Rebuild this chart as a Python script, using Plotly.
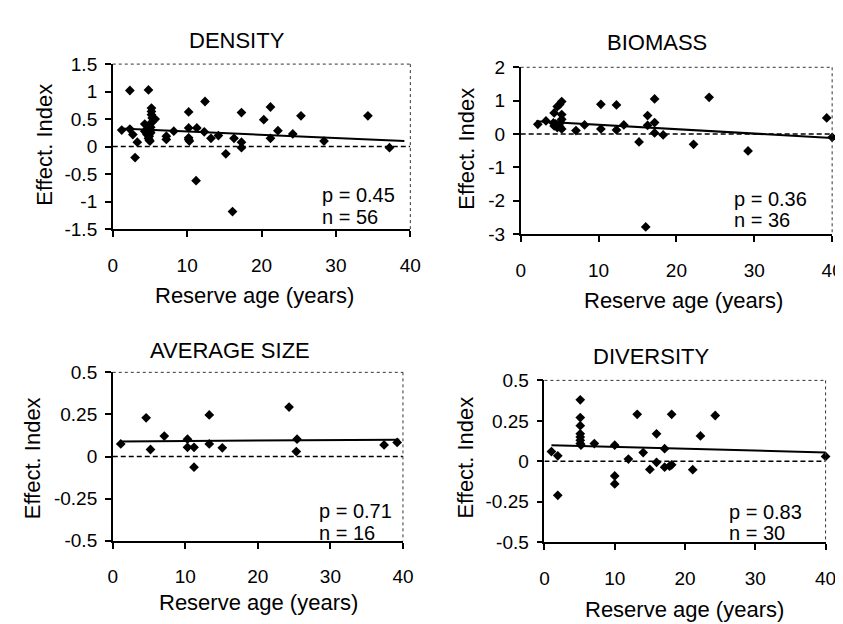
import plotly.graph_objects as go

FONT = "Liberation Sans, Arial, Helvetica, sans-serif"
W, H = 843, 624

# ---------------- data ----------------
density_age = [1.2, 2.3, 2.3, 2.7, 3.0, 3.3, 4.3, 4.3, 4.8,
               4.6, 4.8, 4.8, 4.9, 5.0, 5.0, 5.0, 5.1, 5.2, 5.2, 5.2, 5.3, 5.3, 5.5, 5.7, 5.1, 4.9,
               7.2, 7.2, 8.2, 10.2, 10.2, 10.2, 10.3, 11.3, 11.2, 12.4, 12.3, 13.2, 14.2, 15.2,
               16.3, 16.1, 17.3, 17.3, 17.3, 20.3, 21.2, 21.2, 22.2, 24.2, 25.3, 28.4, 34.3, 37.2,
               10.2, 4.5]
density_eff = [0.30, 1.02, 0.32, 0.22, -0.20, 0.08, 0.41, 0.28, 1.03,
               0.22, 0.31, 0.15, 0.19, 0.10, 0.28, 0.40, 0.35, 0.70, 0.64, 0.58, 0.52, 0.45, 0.49, 0.50, 0.25, 0.12,
               0.19, 0.13, 0.28, 0.63, 0.34, 0.13, 0.10, 0.34, -0.62, 0.82, 0.27, 0.15, 0.20, -0.13,
               0.15, -1.18, 0.62, 0.08, -0.02, 0.49, 0.72, 0.15, 0.29, 0.23, 0.56, 0.10, 0.56, -0.02,
               0.16, 0.25]
density_fit_x = [1.0, 39.2]
density_fit_y = [0.33, 0.10]

biomass_age = [2.2, 3.25, 4.3, 4.7, 5.0, 5.27, 4.3, 4.7, 5.27, 5.27, 5.27, 4.5, 5.0, 4.2, 5.1, 4.9,
               7.1, 8.2, 10.3, 10.3, 12.3, 12.3, 13.25, 15.2, 16.06, 16.3, 16.3, 17.2, 17.2, 17.2,
               18.3, 22.2, 24.2, 29.2, 39.3, 40.0]
biomass_eff = [0.29, 0.39, 0.63, 0.82, 0.88, 0.97, 0.24, 0.19, 0.58, 0.44, 0.15, 0.30, 0.22, 0.33, 0.35, 0.28,
               0.10, 0.27, 0.89, 0.15, 0.87, 0.12, 0.27, -0.24, -2.79, 0.55, 0.26, 1.05, 0.34, 0.03,
               -0.03, -0.31, 1.10, -0.51, 0.48, -0.10]
biomass_fit_x = [2.0, 40.0]
biomass_fit_y = [0.38, -0.12]

size_age = [1.1, 4.6, 5.2, 7.1, 10.3, 10.3, 11.2, 11.2, 13.3, 13.3, 15.1, 24.3, 25.4, 25.3, 37.4, 39.2]
size_eff = [0.075, 0.23, 0.042, 0.122, 0.103, 0.055, 0.055, -0.063, 0.247, 0.075, 0.052, 0.294, 0.103, 0.03, 0.069, 0.084]
size_fit_x = [1.0, 39.5]
size_fit_y = [0.09, 0.10]

diversity_age = [1.0, 1.9, 1.9, 5.1, 5.1, 5.1, 5.1, 5.1, 5.1, 5.1, 5.2, 7.1, 10.0, 10.0, 10.0,
                 11.95, 13.2, 14.05, 15.0, 15.95, 15.95, 17.1, 17.1, 18.1, 18.1, 17.8, 21.1, 22.2, 24.3, 40.0]
diversity_eff = [0.06, 0.034, -0.21, 0.38, 0.27, 0.22, 0.17, 0.15, 0.13, 0.11, 0.10, 0.11, 0.10, -0.09, -0.14,
                 0.014, 0.29, 0.054, -0.05, 0.17, -0.006, 0.078, -0.036, 0.29, -0.022, -0.03, -0.052, 0.157, 0.283, 0.03]
diversity_fit_x = [1.0, 40.0]
diversity_fit_y = [0.10, 0.055]

age_ticks = [0, 10, 20, 30, 40]
age_ticktext = ["0", "10", "20", "30", "40"]

density_yticks = [-1.5, -1, -0.5, 0, 0.5, 1, 1.5]
density_yticktext = ["-1.5", "-1", "-0.5", "0", "0.5", "1", "1.5"]
biomass_yticks = [-3, -2, -1, 0, 1, 2]
biomass_yticktext = ["-3", "-2", "-1", "0", "1", "2"]
small_yticks = [-0.5, -0.25, 0, 0.25, 0.5]
small_yticktext = ["-0.5", "-0.25", "0", "0.25", "0.5"]

titles = ["DENSITY", "BIOMASS", "AVERAGE SIZE", "DIVERSITY"]
p_values = ["0.45", "0.36", "0.71", "0.83"]
n_values = ["56", "36", "16", "30"]

# ---------------- layout geometry (pixels) ----------------
def px(x):
    return x / W

def py(y):
    return 1 - y / H

panels = [
    dict(age=density_age, eff=density_eff, fx=density_fit_x, fy=density_fit_y,
         yt=density_yticks, ytt=density_yticktext, yr=[-1.5, 1.5],
         box=(101.7, 405, 47.7, 218.5), title_pos=(228, 23), ytitle_pos=(31.7, 131),
         xtitle_pos=(246, 287), pn_pos=(313, 183.3, 205.7)),
    dict(age=biomass_age, eff=biomass_eff, fx=biomass_fit_x, fy=biomass_fit_y,
         yt=biomass_yticks, ytt=biomass_yticktext, yr=[-3, 2],
         box=(517.5, 835, 51, 223.5), title_pos=(656, 25), ytitle_pos=(462, 135),
         xtitle_pos=(683, 292), pn_pos=(733, 187.5, 209.5)),
    dict(age=size_age, eff=size_eff, fx=size_fit_x, fy=size_fit_y,
         yt=small_yticks, ytt=small_yticktext, yr=[-0.5, 0.5],
         box=(101.7, 397.5, 366.7, 541), title_pos=(221, 344), ytitle_pos=(20, 456),
         xtitle_pos=(250, 605), pn_pos=(310, 510, 532.5)),
    dict(age=diversity_age, eff=diversity_eff, fx=diversity_fit_x, fy=diversity_fit_y,
         yt=small_yticks, ytt=small_yticktext, yr=[-0.5, 0.5],
         box=(541.7, 828.3, 375, 542.5), title_pos=(650, 350), ytitle_pos=(461.7, 455),
         xtitle_pos=(684, 612), pn_pos=(728, 511, 533.3)),
]

fig = go.Figure()
annotations = []
shapes = []
layout_axes = {}

for i, p in enumerate(panels):
    k = "" if i == 0 else str(i + 1)
    xa, ya = "x" + k, "y" + k
    x0, x1, yt_px, yb_px = p["box"]

    # regression line
    fig.add_trace(go.Scatter(x=p["fx"], y=p["fy"], mode="lines", xaxis=xa, yaxis=ya,
                             line=dict(color="black", width=2), showlegend=False,
                             hoverinfo="skip"))
    # zero reference line
    fig.add_trace(go.Scatter(x=[age_ticks[0], age_ticks[-1]], y=[0, 0], mode="lines",
                             xaxis=xa, yaxis=ya,
                             line=dict(color="black", width=1.5, dash="5px,3px"),
                             showlegend=False, hoverinfo="skip"))
    # points
    fig.add_trace(go.Scatter(x=p["age"], y=p["eff"], mode="markers", xaxis=xa, yaxis=ya,
                             marker=dict(symbol="diamond", size=7.5, color="black"),
                             cliponaxis=False, showlegend=False))

    layout_axes["xaxis" + k] = dict(
        domain=[px(x0), px(x1)], range=[0, 40], anchor=ya,
        tickvals=age_ticks, ticktext=age_ticktext,
        showline=True, linecolor="black", linewidth=1.5,
        ticks="outside", ticklen=6, tickwidth=1.5, tickcolor="black",
        ticklabelstandoff=12,
        showgrid=False, zeroline=False,
        tickfont=dict(family=FONT, size=19, color="black"),
    )
    layout_axes["yaxis" + k] = dict(
        domain=[py(yb_px), py(yt_px)], range=p["yr"], anchor=xa,
        tickvals=p["yt"], ticktext=p["ytt"],
        showline=True, linecolor="black", linewidth=1.5,
        ticks="outside", ticklen=6, tickwidth=1.5, tickcolor="black",
        ticklabelstandoff=4,
        showgrid=False, zeroline=False,
        tickfont=dict(family=FONT, size=19, color="black"),
    )

    # dotted top and right frame
    shapes.append(dict(type="line", xref="paper", yref="paper",
                       x0=px(x0), x1=px(x1), y0=py(yt_px), y1=py(yt_px),
                       line=dict(color="#333", width=1, dash="dot")))
    shapes.append(dict(type="line", xref="paper", yref="paper",
                       x0=px(x1), x1=px(x1), y0=py(yt_px), y1=py(yb_px),
                       line=dict(color="#333", width=1, dash="dot")))

    tx, ty = p["title_pos"]
    annotations.append(dict(text=titles[i], x=px(tx), y=py(ty), xref="paper", yref="paper",
                            xanchor="center", yanchor="middle", showarrow=False,
                            font=dict(family=FONT, size=22, color="black")))
    yx, yy = p["ytitle_pos"]
    annotations.append(dict(text="Effect. Index", x=px(yx), y=py(yy), xref="paper", yref="paper",
                            xanchor="center", yanchor="middle", showarrow=False, textangle=-90,
                            font=dict(family=FONT, size=22, color="black")))
    xx, xy = p["xtitle_pos"]
    annotations.append(dict(text="Reserve age (years)", x=px(xx), y=py(xy), xref="paper", yref="paper",
                            xanchor="center", yanchor="middle", showarrow=False,
                            font=dict(family=FONT, size=22, color="black")))
    lx, pyy, nyy = p["pn_pos"]
    annotations.append(dict(text="p = " + p_values[i], x=px(lx), y=py(pyy), xref="paper", yref="paper",
                            xanchor="left", yanchor="middle", showarrow=False,
                            font=dict(family=FONT, size=20, color="black")))
    annotations.append(dict(text="n = " + n_values[i], x=px(lx), y=py(nyy), xref="paper", yref="paper",
                            xanchor="left", yanchor="middle", showarrow=False,
                            font=dict(family=FONT, size=20, color="black")))

fig.update_layout(
    width=W, height=H,
    margin=dict(l=0, r=0, t=0, b=0),
    paper_bgcolor="white", plot_bgcolor="white",
    showlegend=False,
    annotations=annotations,
    shapes=shapes,
    font=dict(family=FONT, color="black"),
    **layout_axes,
)

fig.write_html("out.html")
